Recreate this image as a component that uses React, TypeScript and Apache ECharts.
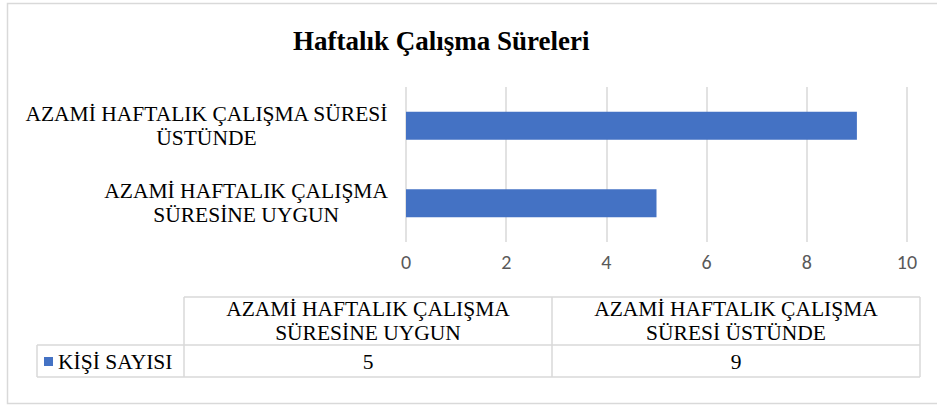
import React, { useEffect, useRef } from "react";
import * as echarts from "echarts";

const chartTitle = "Haftalık Çalışma Süreleri";
const categories = [
  "AZAMİ HAFTALIK ÇALIŞMA SÜRESİNE UYGUN",
  "AZAMİ HAFTALIK ÇALIŞMA SÜRESİ ÜSTÜNDE",
];
const axisLabelLines = [
  ["AZAMİ HAFTALIK ÇALIŞMA", "SÜRESİNE UYGUN"],
  ["AZAMİ HAFTALIK ÇALIŞMA SÜRESİ", "ÜSTÜNDE"],
];
const tableHeaderLines = [
  ["AZAMİ HAFTALIK ÇALIŞMA", "SÜRESİNE UYGUN"],
  ["AZAMİ HAFTALIK ÇALIŞMA", "SÜRESİ ÜSTÜNDE"],
];
const seriesName = "KİŞİ SAYISI";
const values = [5, 9];
const xTicks = { min: 0, max: 10, interval: 2 };

const BLUE = "#4472C4";
const LINE = "#d9d9d9";
const SERIF = "Liberation Serif";
const FS = 21.5;

export default function App() {
  const ref = useRef<HTMLDivElement>(null);
  useEffect(() => {
    document.body.style.margin = "0";
    const chart = echarts.init(ref.current!, undefined, { renderer: "svg" });

    const colX = [184, 552, 920];
    const rowHeaderX = 37;
    const tTop = 297;
    const tMid = 345;
    const tBot = 377;
    const g: any[] = [];
    g.push({
      type: "rect",
      shape: { x: 7.5, y: 3.5, width: 940, height: 400 },
      style: { fill: "none", stroke: LINE, lineWidth: 1.5 },
      silent: true,
    });
    const ln = (x1: number, y1: number, x2: number, y2: number) =>
      g.push({
        type: "line",
        shape: { x1, y1, x2, y2 },
        style: { stroke: LINE, lineWidth: 1.5 },
        silent: true,
      });
    ln(colX[0], tTop, colX[2], tTop);
    ln(rowHeaderX, tMid, colX[2], tMid);
    ln(rowHeaderX, tBot, colX[2], tBot);
    ln(rowHeaderX, tMid, rowHeaderX, tBot);
    colX.forEach((x) => ln(x, tTop, x, tBot));
    const txt = (x: number, y: number, text: string, align: string) =>
      g.push({
        type: "text",
        x,
        y,
        silent: true,
        style: {
          text,
          fontFamily: SERIF,
          fontSize: FS,
          fill: "#000",
          align,
          verticalAlign: "middle",
          lineHeight: 24,
        },
      });
    tableHeaderLines.forEach((lines, i) => {
      const cx = (colX[i] + colX[i + 1]) / 2;
      txt(cx, (tTop + tMid) / 2, lines.join("\n"), "center");
      txt(cx, (tMid + tBot) / 2 + 1, String(values[i]), "center");
    });
    g.push({
      type: "rect",
      shape: { x: 44, y: 357, width: 9, height: 9 },
      style: { fill: BLUE },
      silent: true,
    });
    txt(58, (tMid + tBot) / 2 + 1, seriesName, "left");

    chart.setOption({
      animation: false,
      title: {
        text: chartTitle,
        left: 288,
        top: 22,
        textStyle: {
          fontFamily: SERIF,
          fontWeight: "bold",
          fontSize: 27,
          color: "#000",
        },
      },
      grid: { left: 406, right: 30, top: 87, bottom: 164, containLabel: false },
      xAxis: {
        type: "value",
        min: xTicks.min,
        max: xTicks.max,
        interval: xTicks.interval,
        axisLine: { show: false },
        axisTick: { show: false },
        splitLine: { show: true, lineStyle: { color: LINE, width: 1.5 } },
        axisLabel: {
          color: "#595959",
          fontFamily: "Carlito",
          fontSize: 20,
          margin: 10,
        },
      },
      yAxis: {
        type: "category",
        data: categories,
        axisLine: { show: false },
        axisTick: { show: false },
        axisLabel: {
          margin: 18,
          formatter: (_v: string, idx: number) =>
            axisLabelLines[idx].map((l) => `{c|${l}}`).join("\n"),
          rich: {
            c: {
              fontFamily: SERIF,
              fontSize: FS,
              lineHeight: 24,
              color: "#000",
              align: "center",
            },
          },
        },
      },
      series: [
        {
          name: seriesName,
          type: "bar",
          data: values,
          barWidth: 28,
          itemStyle: { color: BLUE },
        },
      ],
      graphic: g,
    });
    return () => chart.dispose();
  }, []);
  return <div ref={ref} style={{ width: 937, height: 406 }} />;
}
